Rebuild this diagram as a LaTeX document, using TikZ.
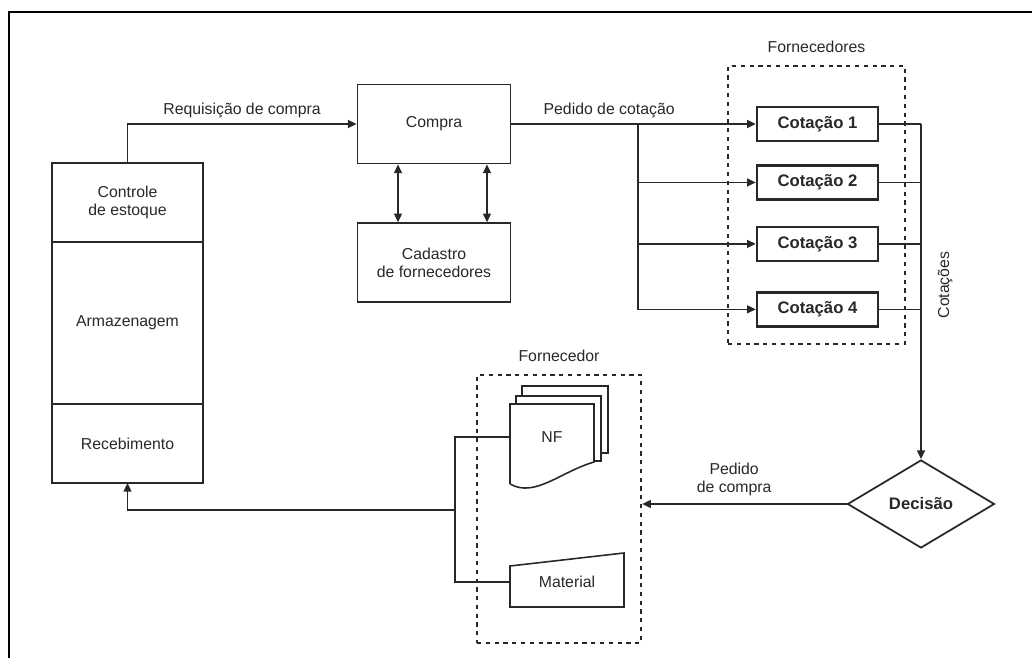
\documentclass[tikz,border=0pt]{standalone}
\usepackage{fontspec}
\setmainfont{Liberation Sans}
\usetikzlibrary{shapes.geometric, arrows.meta, positioning, calc}
\definecolor{tinta}{RGB}{40, 40, 40}

\begin{document}
\begin{tikzpicture}[
        x=0.02cm, y=-0.02cm,
        >={Triangle[length=5pt, width=4.5pt]},
        font=\fontsize{9}{10.5}\selectfont,
        bloco/.style={rectangle, draw=tinta, line width=1pt, outer sep=0pt, minimum width=3.02cm, text=tinta, align=center},
        proc/.style={rectangle, draw=tinta, line width=1pt, minimum width=3.06cm, minimum height=1.58cm, text=tinta, align=center},
        cot/.style={rectangle, draw=tinta, line width=1.4pt, minimum width=2.42cm, minimum height=0.68cm, text=tinta, font=\fontsize{9.5}{11}\selectfont\bfseries},
        decisao/.style={diamond, draw=tinta, line width=1pt, aspect=1.67, minimum width=2.94cm, minimum height=1.76cm, text=tinta, font=\fontsize{9.5}{11}\selectfont\bfseries},
        grupo/.style={rectangle, draw=tinta, line width=1.3pt, dash pattern=on 2.4pt off 2.6pt},
        fio/.style={draw=tinta, line width=0.9pt},
        fiogrosso/.style={draw=tinta, line width=1.3pt},
        rotulo/.style={text=tinta, inner sep=1pt},
    ]

    \useasboundingbox (0,0) rectangle (1032,658);

    % Moldura
    \draw[line width=1.6pt] (9,658) -- (9,12) -- (1032,12);

    % Coluna do almoxarifado
    \node[bloco, minimum height=1.58cm] (ctrl) at (127.5,202.5) {Controle\\de estoque};
    \node[bloco, minimum height=3.24cm, below=0pt of ctrl] (arm) {Armazenagem};
    \node[bloco, minimum height=1.58cm, below=0pt of arm] (rec) {Recebimento};

    % Compra e cadastro
    \node[proc] (compra) at (434,124) {Compra};
    \node[proc, below=1.16cm of compra] (cadastro) {Cadastro\\de fornecedores};

    % Fornecedores e cotacoes
    \node[cot] (c1) at (817.5,124) {Cotação 1};
    \node[cot, below=0.44cm of c1] (c2) {Cotação 2};
    \node[cot, below=0.5cm of c2] (c3) {Cotação 3};
    \node[cot, below=0.58cm of c3] (c4) {Cotação 4};
    \node[grupo, minimum width=3.54cm, minimum height=5.56cm] (forn) at (816.5,205) {};
    \node[rotulo, above=0.2cm of forn] (fornrot) {Fornecedores};
    \node[rotulo, rotate=90] (cotrot) at (945,285) {Cotações};

    % Decisao
    \node[decisao] (dec) at (921,504) {Decisão};

    % Fornecedor escolhido
    \node[grupo, minimum width=3.28cm, minimum height=5.36cm] (fornb) at (559,509) {};
    \node[rotulo, above=0.2cm of fornb] (fornbrot) {Fornecedor};
    \draw[fio, fill=white] (522,453) -- (522,386) -- (608,386) -- (608,453) -- cycle;
    \draw[fio, fill=white] (516,461) -- (516,396) -- (601,396) -- (601,461) -- cycle;
    \draw[fio, fill=white] (510,484) -- (510,404) -- (594,404) -- (594,462)
        .. controls (560,472) and (535,498) .. (510,484);
    \node[rotulo, minimum width=1.68cm, minimum height=1.2cm] (nf) at (552,437) {NF};
    \draw[fio, fill=white] (510,566) -- (624,553) -- (624,607) -- (510,607) -- cycle;
    \node[rotulo, minimum width=2.28cm] (mat) at (567,582) {Material};

    % Conexoes
    \draw[fio, ->] (ctrl.north) |- node[rotulo, above=2pt, pos=0.75] {Requisição de compra} (compra.west);
    \draw[fio, <->] ([xshift=-0.72cm]compra.south) -- ([xshift=-0.72cm]cadastro.north);
    \draw[fio, <->] ([xshift=1.06cm]compra.south) -- ([xshift=1.06cm]cadastro.north);
    \draw[fiogrosso, ->] (compra.east) -- node[rotulo, above=2pt, pos=0.4] {Pedido de cotação} (c1.west);
    \coordinate (ramo) at (638,124);
    \draw[fio, ->] (ramo) |- (c2.west);
    \draw[fio, ->] (ramo) |- (c3.west);
    \draw[fio, ->] (ramo) |- (c4.west);
    \draw[fiogrosso] (c1.east) -- (c1.east -| dec.north);
    \draw[fio, ->] (c1.east -| dec.north) -- (dec.north);
    \draw[fio] (c2.east) -- (c2.east -| dec.north);
    \draw[fio] (c3.east) -- (c3.east -| dec.north);
    \draw[fio] (c4.east) -- (c4.east -| dec.north);
    \draw[fio, ->] (dec.west) -- node[rotulo, above=3pt, align=center, pos=0.55] {Pedido\\de compra} (dec.west -| fornb.east);
    \coordinate (juncao) at (455,510);
    \draw[fio] (nf.west) -| (juncao) |- (mat.west);
    \draw[fio, ->] (juncao) -| (rec.south);

\end{tikzpicture}
\end{document}
